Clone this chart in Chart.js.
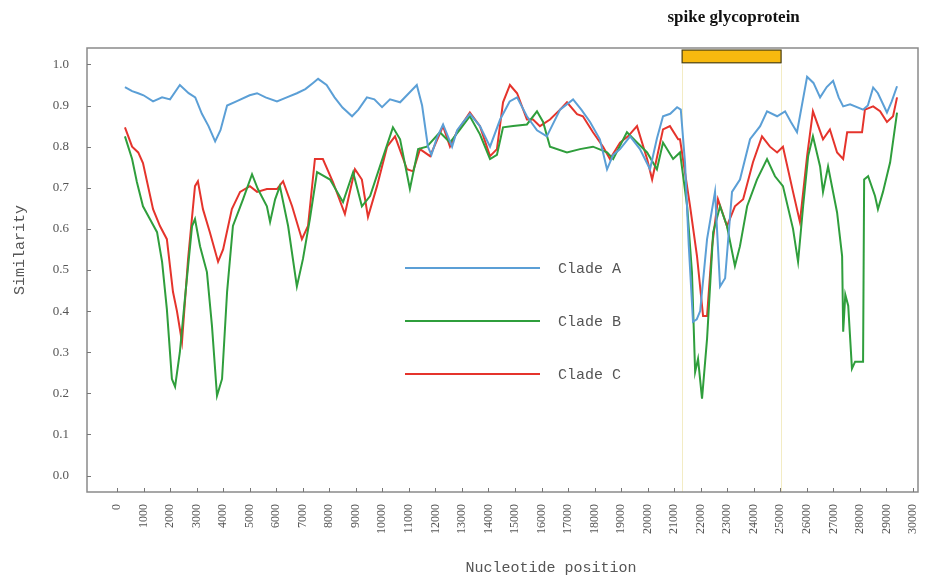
<!DOCTYPE html>
<html>
<head>
<meta charset="utf-8">
<script src="https://cdn.jsdelivr.net/npm/chart.js@4"></script>
<style>
  html, body { margin: 0; padding: 0; background: #fff; }
  #wrap { width: 933px; height: 577px; position: relative; }
</style>
</head>
<body>
<div id="wrap"><canvas id="chart"></canvas></div>
<script>
// x positions (nt) and similarity values
const posA = [300,570,800,1000,1360,1700,2000,2370,2700,2950,3200,3450,3700,3900,4150,4500,5000,5280,5600,6030,6400,6780,7100,7390,7580,7900,8200,8500,8860,9100,9420,9700,9990,10290,10670,11000,11300,11500,11720,11850,12050,12290,12630,12820,13050,13300,13680,14060,14440,14800,15080,15450,15830,16200,16700,17190,17500,17830,18200,18470,18700,18960,19340,19710,20090,20350,20580,20850,21110,21250,21410,21550,21710,21850,21980,22240,22540,22730,22920,23180,23480,23860,24240,24500,24880,25180,25400,25630,26010,26250,26500,26750,26990,27200,27370,27630,28120,28300,28500,28680,29020,29200,29400];
const cladeA = [0.945,0.935,0.93,0.925,0.91,0.92,0.915,0.95,0.93,0.92,0.88,0.85,0.813,0.84,0.90,0.91,0.925,0.93,0.92,0.91,0.92,0.93,0.94,0.955,0.965,0.95,0.92,0.895,0.874,0.89,0.92,0.915,0.896,0.915,0.908,0.93,0.95,0.90,0.80,0.78,0.82,0.854,0.80,0.84,0.86,0.88,0.85,0.80,0.866,0.91,0.92,0.874,0.84,0.825,0.89,0.915,0.89,0.86,0.818,0.745,0.78,0.794,0.825,0.794,0.745,0.82,0.874,0.88,0.896,0.89,0.76,0.56,0.374,0.38,0.40,0.575,0.69,0.46,0.48,0.69,0.72,0.818,0.85,0.886,0.874,0.886,0.86,0.835,0.97,0.955,0.92,0.945,0.96,0.92,0.898,0.903,0.89,0.90,0.944,0.93,0.883,0.91,0.947];

const posB = [300,570,750,980,1240,1510,1700,1880,2070,2190,2370,2560,2830,2940,3130,3390,3580,3770,3960,4150,4370,4750,5090,5310,5650,5770,5960,6140,6450,6780,7010,7270,7540,8030,8520,8900,9230,9540,9910,10400,10670,11040,11350,11680,12170,12550,12930,13300,13680,14060,14320,14550,14930,15450,15830,16060,16320,16960,17450,17940,18470,18700,19220,19600,19980,20350,20580,20960,21220,21490,21670,21790,21900,22050,22240,22470,22730,22990,23290,23480,23750,24120,24500,24800,25100,25480,25670,25860,26050,26230,26500,26610,26800,27140,27330,27370,27450,27560,27700,27820,28120,28160,28310,28570,28680,28870,29140,29400];
const cladeB = [0.825,0.77,0.714,0.655,0.624,0.592,0.52,0.405,0.235,0.216,0.30,0.43,0.607,0.624,0.558,0.495,0.364,0.194,0.235,0.447,0.607,0.672,0.733,0.697,0.655,0.617,0.672,0.704,0.607,0.46,0.527,0.624,0.738,0.72,0.665,0.738,0.655,0.68,0.752,0.847,0.818,0.697,0.794,0.80,0.835,0.81,0.842,0.874,0.83,0.77,0.78,0.847,0.85,0.854,0.886,0.86,0.80,0.786,0.794,0.80,0.786,0.77,0.835,0.81,0.786,0.745,0.81,0.77,0.786,0.655,0.495,0.252,0.284,0.187,0.333,0.592,0.655,0.607,0.51,0.558,0.655,0.72,0.77,0.728,0.704,0.60,0.52,0.655,0.777,0.825,0.752,0.69,0.752,0.64,0.534,0.35,0.44,0.413,0.26,0.277,0.277,0.72,0.728,0.68,0.648,0.69,0.762,0.883];

const posC = [300,570,800,980,1360,1620,1880,2110,2260,2450,2680,2940,3050,3240,3500,3810,4000,4330,4640,5010,5280,5650,6030,6260,6600,6970,7200,7460,7760,8140,8590,8970,9230,9460,9800,10180,10480,10930,11160,11420,11800,12290,12550,12820,13300,13680,14060,14320,14550,14810,15080,15450,15680,15940,16320,16700,16960,17340,17560,17940,18320,18580,18960,19260,19600,19980,20170,20580,20840,21150,21220,21600,21860,22090,22240,22430,22650,22990,23290,23600,23970,24310,24610,24880,25100,25480,25740,26010,26230,26610,26870,27140,27370,27520,28080,28190,28500,28760,29020,29250,29400];
const cladeC = [0.847,0.80,0.786,0.76,0.648,0.607,0.575,0.447,0.40,0.325,0.527,0.704,0.716,0.648,0.592,0.52,0.55,0.648,0.69,0.704,0.69,0.697,0.697,0.716,0.655,0.575,0.607,0.77,0.77,0.714,0.636,0.745,0.72,0.629,0.704,0.80,0.825,0.745,0.74,0.794,0.777,0.85,0.80,0.837,0.883,0.85,0.777,0.794,0.908,0.95,0.93,0.866,0.866,0.85,0.866,0.89,0.908,0.879,0.874,0.835,0.80,0.77,0.81,0.825,0.85,0.77,0.72,0.842,0.85,0.818,0.818,0.655,0.534,0.388,0.388,0.558,0.672,0.607,0.655,0.672,0.762,0.825,0.80,0.786,0.80,0.69,0.617,0.777,0.886,0.818,0.842,0.786,0.77,0.835,0.835,0.89,0.898,0.886,0.86,0.874,0.92];

const xTicks = [0,1000,2000,3000,4000,5000,6000,7000,8000,9000,10000,11000,12000,13000,14000,15000,16000,17000,18000,19000,20000,21000,22000,23000,24000,25000,26000,27000,28000,29000,30000];
const yTicks = [0.0,0.1,0.2,0.3,0.4,0.5,0.6,0.7,0.8,0.9,1.0];

const spikeStart = 21300;
const spikeEnd = 25030;
const spikeLabel = 'spike glycoprotein';

const colA = '#5b9fd6';
const colB = '#2f9e3c';
const colC = '#e5342c';

function pts(xs, ys) {
  return xs.map((x, i) => ({ x: x, y: ys[i] }));
}

const decor = {
  id: 'decor',
  beforeDatasetsDraw(chart) {
    const ctx = chart.ctx;
    const xs = chart.scales.x, ys = chart.scales.y;
    const a = chart.chartArea;
    const x0 = xs.getPixelForValue(spikeStart), x1 = xs.getPixelForValue(spikeEnd);
    ctx.save();
    ctx.strokeStyle = '#f3ecc4';
    ctx.lineWidth = 1;
    [x0, x1].forEach(x => {
      ctx.beginPath();
      ctx.moveTo(Math.round(x) + 0.5, ys.getPixelForValue(1.0));
      ctx.lineTo(Math.round(x) + 0.5, a.bottom);
      ctx.stroke();
    });
    ctx.restore();
  },
  afterDraw(chart) {
    const ctx = chart.ctx;
    const xs = chart.scales.x, ys = chart.scales.y;
    const a = chart.chartArea;
    ctx.save();
    // frame
    ctx.strokeStyle = '#8a8a8a';
    ctx.lineWidth = 1.5;
    ctx.strokeRect(a.left, a.top, a.right - a.left, a.bottom - a.top);
    // inner tick marks
    ctx.strokeStyle = '#777';
    ctx.lineWidth = 1;
    yTicks.forEach(v => {
      const y = Math.round(ys.getPixelForValue(v)) + 0.5;
      ctx.beginPath(); ctx.moveTo(a.left, y); ctx.lineTo(a.left + 4, y); ctx.stroke();
    });
    xTicks.forEach(v => {
      const x = Math.round(xs.getPixelForValue(v)) + 0.5;
      ctx.beginPath(); ctx.moveTo(x, a.bottom); ctx.lineTo(x, a.bottom - 4); ctx.stroke();
    });
    // spike bar
    const x0 = xs.getPixelForValue(spikeStart), x1 = xs.getPixelForValue(spikeEnd);
    const yt = ys.getPixelForValue(1.035), yb = ys.getPixelForValue(1.004);
    ctx.fillStyle = '#f7b90f';
    ctx.fillRect(x0, yt, x1 - x0, yb - yt);
    ctx.strokeStyle = '#4a3f10';
    ctx.lineWidth = 1.2;
    ctx.strokeRect(x0, yt, x1 - x0, yb - yt);
    ctx.fillStyle = '#111';
    ctx.font = 'bold 17px "Liberation Serif", serif';
    ctx.textAlign = 'center';
    ctx.textBaseline = 'middle';
    ctx.fillText(spikeLabel, (x0 + x1) / 2 + 2, 18);
    // legend
    ctx.font = '15px "Liberation Mono", monospace';
    ctx.textAlign = 'left';
    chart.data.datasets.forEach((ds, i) => {
      const y = a.top + 220 + i * 53;
      ctx.strokeStyle = ds.borderColor;
      ctx.lineWidth = 2;
      ctx.beginPath(); ctx.moveTo(a.left + 318, y); ctx.lineTo(a.left + 453, y); ctx.stroke();
      ctx.fillStyle = '#555';
      ctx.fillText(ds.label, a.left + 471, y + 1);
    });
    // axis titles
    ctx.fillStyle = '#555';
    ctx.font = '15px "Liberation Mono", monospace';
    ctx.textAlign = 'center';
    ctx.fillText('Nucleotide position', 551, 568);
    ctx.translate(20, 250);
    ctx.rotate(-Math.PI / 2);
    ctx.fillText('Similarity', 0, 0);
    ctx.restore();
  }
};

new Chart(document.getElementById('chart'), {
  type: 'line',
  data: {
    datasets: [
      { label: 'Clade A', data: pts(posA, cladeA), borderColor: colA, borderWidth: 2, pointRadius: 0, tension: 0, fill: false },
      { label: 'Clade B', data: pts(posB, cladeB), borderColor: colB, borderWidth: 2, pointRadius: 0, tension: 0, fill: false },
      { label: 'Clade C', data: pts(posC, cladeC), borderColor: colC, borderWidth: 2, pointRadius: 0, tension: 0, fill: false }
    ]
  },
  options: {
    responsive: true,
    maintainAspectRatio: false,
    animation: false,
    layout: { padding: { left: 0, top: 48, right: 15, bottom: 0 } },
    plugins: { legend: { display: false }, tooltip: { enabled: false } },
    scales: {
      x: {
        type: 'linear',
        min: -1130,
        max: 30190,
        afterBuildTicks: s => { s.ticks = xTicks.map(v => ({ value: v })); },
        afterFit: s => { s.height = 85; },
        grid: { display: false },
        border: { display: false },
        ticks: {
          minRotation: 90,
          maxRotation: 90,
          padding: 4,
          color: '#555',
          font: { family: '"Liberation Serif", serif', size: 12 },
          callback: v => String(v)
        }
      },
      y: {
        type: 'linear',
        min: -0.04,
        max: 1.04,
        afterBuildTicks: s => { s.ticks = yTicks.map(v => ({ value: v })); },
        afterFit: s => { s.width = 87; },
        grid: { display: false },
        border: { display: false },
        ticks: {
          padding: 10,
          color: '#555',
          font: { family: '"Liberation Serif", serif', size: 13 },
          callback: v => Number(v).toFixed(1)
        }
      }
    }
  },
  plugins: [decor]
});
</script>
</body>
</html>
